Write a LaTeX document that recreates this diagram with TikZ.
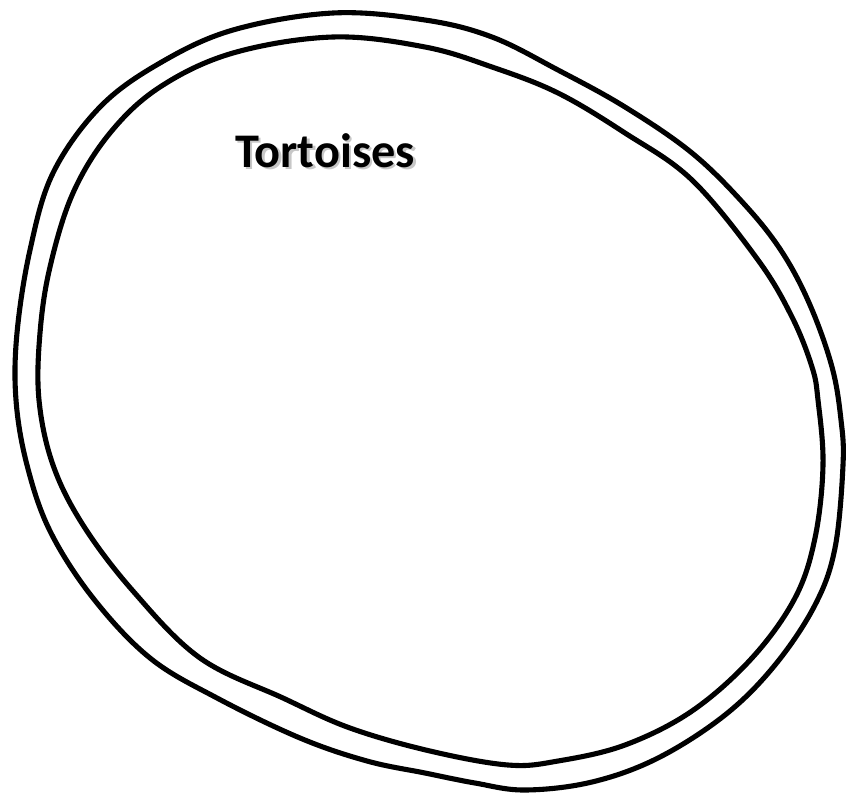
\documentclass[tikz,border=0pt]{standalone}
\usepackage{fontspec}
\newfontfamily\labelfont{Carlito}
\usepackage{tikz}
\usetikzlibrary{positioning}

\begin{document}
\begin{tikzpicture}[x=0.02cm, y=-0.02cm,
    ring/.style={line width=2.9pt, line join=round, line cap=round},
    setname/.style={font=\labelfont\bfseries\fontsize{27.5}{32}\selectfont, inner sep=0pt, anchor=base}]
  \useasboundingbox (0,0) rectangle (855,798);

  % Outer ring
  \draw[ring] plot[smooth cycle, tension=0.6] coordinates {
    (333,13) (425,20) (492,37) (558,70) (625,107) (692,153) (745,205) (782,252)
    (810,305) (832,367) (841,420) (843,465) (835,548) (815,605) (775,665) (725,715)
    (658,758) (592,782) (525,790) (475,783) (425,773) (367,761) (300,738) (217,698)
    (150,658) (93,598) (50,531) (27,465) (16,400) (17,333) (30,250) (53,173)
    (100,107) (160,63) (233,30)};

  % Inner ring
  \draw[ring] plot[smooth cycle, tension=0.6] coordinates {
    (333,37) (425,47) (492,67) (558,93) (625,133) (692,180) (758,260) (792,317)
    (812,367) (818,400) (823,465) (815,538) (795,598) (752,658) (692,711) (625,745)
    (558,761) (508,765) (430,751) (350,728) (283,698) (200,658) (133,591) (83,525)
    (53,465) (39,400) (40,333) (50,267) (73,193) (110,133) (160,87) (233,53)};

  % Set label with its shadow
  \node[setname, text=black!22] (tortoiseshadow) at (327.5,169.5) {Tortoises};
  \node[setname] (tortoises) at (325,167) {Tortoises};
\end{tikzpicture}
\end{document}
